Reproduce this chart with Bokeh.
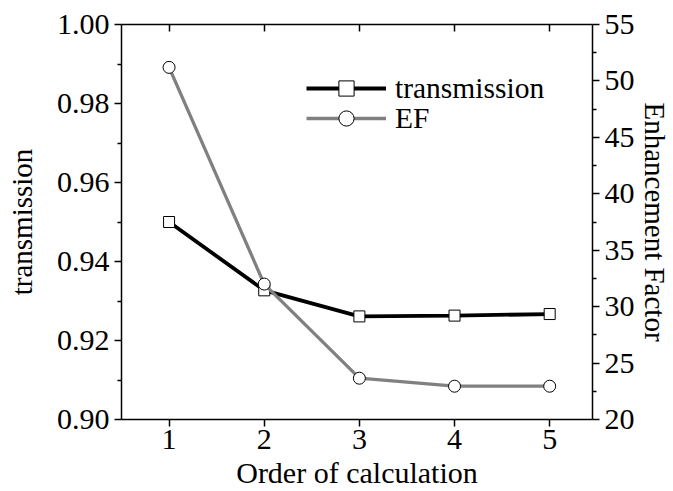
from bokeh.plotting import figure
from bokeh.models import (LinearAxis, Range1d, FixedTicker, PrintfTickFormatter,
                          Legend, LegendItem)
from bokeh.embed import file_html
from bokeh.resources import INLINE

# ---- data ----
order = [1, 2, 3, 4, 5]
transmission = [0.9500, 0.9327, 0.9261, 0.9263, 0.9267]
ef = [51.2, 32.0, 23.66, 22.95, 22.95]

x_ticks = [1, 2, 3, 4, 5]
left_ticks = [0.90, 0.92, 0.94, 0.96, 0.98, 1.00]
left_minor = [0.91, 0.93, 0.95, 0.97, 0.99]
right_ticks = [20, 25, 30, 35, 40, 45, 50, 55]
right_minor = [22.5, 27.5, 32.5, 37.5, 42.5, 47.5, 52.5]

x_title = "Order of calculation"
left_title = "transmission"
right_title = "Enhancement Factor"

FONT = "Liberation Serif"
TICK_SIZE = "30px"
TITLE_SIZE = "29px"

p = figure(width=673, height=491, x_range=Range1d(0.5, 5.45), y_range=Range1d(0.90, 1.00),
           output_backend="svg", toolbar_location=None,
           min_border_left=121, min_border_right=80, min_border_top=24, min_border_bottom=72)
p.outline_line_color = None
p.grid.visible = False
p.background_fill_color = "white"
p.border_fill_color = "white"

p.extra_y_ranges = {"ef": Range1d(20, 55)}


def style_axis(ax):
    ax.axis_line_color = "black"
    ax.axis_line_width = 1.5
    ax.major_tick_line_color = "black"
    ax.major_tick_line_width = 1.5
    ax.minor_tick_line_color = "black"
    ax.minor_tick_line_width = 1.5
    ax.major_tick_out = 7
    ax.major_tick_in = 0
    ax.minor_tick_out = 4
    ax.minor_tick_in = 0
    ax.major_label_text_font = FONT
    ax.major_label_text_font_size = TICK_SIZE
    ax.major_label_text_color = "black"
    ax.axis_label_text_font = FONT
    ax.axis_label_text_font_size = TITLE_SIZE
    ax.axis_label_text_font_style = "normal"
    ax.axis_label_text_color = "black"
    ax.major_label_standoff = 5
    ax.axis_label_standoff = 2


# bottom axis
xa = p.xaxis[0]
style_axis(xa)
xa.ticker = FixedTicker(ticks=x_ticks)
xa.minor_tick_line_color = None
xa.major_label_standoff = 3
xa.axis_label = x_title
xa.axis_label_text_font_size = "30px"
xa.axis_label_standoff = 4

# left axis
ya = p.yaxis[0]
style_axis(ya)
ya.ticker = FixedTicker(ticks=left_ticks, minor_ticks=left_minor)
ya.formatter = PrintfTickFormatter(format="%.2f")
ya.axis_label = left_title
ya.axis_label_standoff = 16

# right axis
ra = LinearAxis(y_range_name="ef")
style_axis(ra)
ra.ticker = FixedTicker(ticks=right_ticks, minor_ticks=right_minor)
ra.axis_label = right_title
ra.axis_label_standoff = 1
p.add_layout(ra, "right")

# top axis (ticks inward, no labels)
ta = LinearAxis()
style_axis(ta)
ta.ticker = FixedTicker(ticks=x_ticks)
ta.major_tick_in = 7
ta.major_tick_out = 0
ta.minor_tick_line_color = None
ta.major_label_overrides = {t: "" for t in x_ticks}
ta.major_label_standoff = 0
p.add_layout(ta, "above")

# series
l1 = p.line(order, transmission, line_color="black", line_width=3.8)
s1 = p.scatter(order, transmission, marker="square", size=11, fill_color="white",
               line_color="black", line_width=1)
l2 = p.line(order, ef, line_color="#808080", line_width=3.3, y_range_name="ef")
s2 = p.scatter(order, ef, marker="circle", size=12, fill_color="white",
               line_color="black", line_width=1, y_range_name="ef")


def make_legend(item, loc):
    lg = Legend(items=[item], location=loc)
    lg.glyph_width = 80
    lg.glyph_height = 38
    lg.padding = 0
    lg.margin = 0
    lg.label_standoff = 9
    lg.border_line_color = None
    lg.background_fill_alpha = 0
    lg.label_text_font = FONT
    lg.label_text_font_size = "29.5px"
    lg.label_text_color = "black"
    return lg


p.add_layout(make_legend(LegendItem(label="transmission", renderers=[l1, s1]), (185, 312)), "center")
p.add_layout(make_legend(LegendItem(label="EF", renderers=[l2, s2]), (185, 282)), "center")

open("out.html", "w").write(file_html(p, INLINE))
